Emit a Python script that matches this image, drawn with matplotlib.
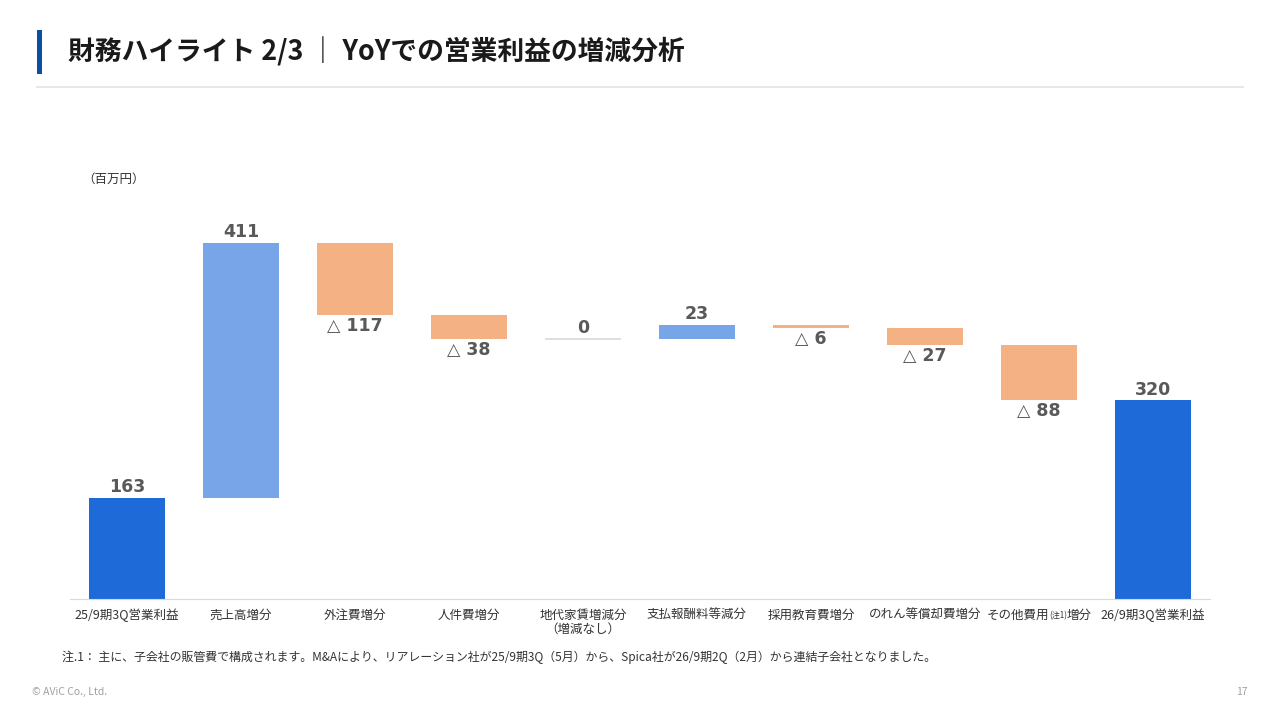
import matplotlib
matplotlib.use("Agg")
import matplotlib.pyplot as plt
from matplotlib.offsetbox import TextArea, HPacker, AnnotationBbox
import numpy as np

plt.rcParams['font.family'] = ['Noto Sans CJK JP', 'DejaVu Sans']

# ---- data ----
categories = ["25/9期3Q営業利益", "売上高増分", "外注費増分", "人件費増分",
              "地代家賃増減分\n（増減なし）", "支払報酬料等減分", "採用教育費増分",
              "のれん等償却費増分", "その他費用(注1)増分", "26/9期3Q営業利益"]
values = [163, 411, -117, -38, 0, 23, -6, -27, -88, 320]
kinds = ["total", "delta", "delta", "delta", "delta", "delta", "delta", "delta", "delta", "total"]

C_TOTAL = "#1F6AD9"
C_UP = "#77A5E8"
C_DOWN = "#F4B183"
C_ZERO = "#D9D9D9"
C_LABEL = "#595959"

fig = plt.figure(figsize=(12.8, 7.2), dpi=100)
W, H = 1280, 720

# header
fig.add_artist(plt.Rectangle((37 / W, 1 - 74 / H), 5 / W, 44 / H, transform=fig.transFigure,
                             color="#0B4EA2", lw=0))
fig.text(68 / W, 1 - 52 / H, "財務ハイライト 2/3 ｜ YoYでの営業利益の増減分析", fontsize=19.3,
         fontweight="bold", color="#1a1a1a", va="center", ha="left")
fig.add_artist(plt.Line2D([37 / W, 1243 / W], [1 - 87 / H, 1 - 87 / H], transform=fig.transFigure,
                          color="#E3E3E3", lw=1.2))

ax = fig.add_axes([70 / W, 1 - 599 / H, 1140 / W, 399 / H])
x = np.arange(len(categories))
ax.set_xlim(-0.5, len(categories) - 0.5)
ax.set_ylim(0, 643)

running = 0
bw = 0.66
for i, (v, k) in enumerate(zip(values, kinds)):
    if k == "total":
        bottom, height, col = 0, v, C_TOTAL
        running = v
    else:
        if v >= 0:
            bottom, height = running, v
            col = C_UP if v > 0 else C_ZERO
        else:
            bottom, height = running + v, -v
            col = C_DOWN
        running += v
    if v == 0:
        ax.hlines(bottom, i - bw / 2, i + bw / 2, color=C_ZERO, lw=1.2)
    else:
        ax.bar(i, height, bottom=bottom, width=bw, color=col, lw=0)
    if v >= 0:
        ax.text(i, bottom + height + 3, f"{v}", ha="center", va="bottom", fontsize=12.5,
                fontweight="bold", color=C_LABEL, family=["DejaVu Sans"])
    else:
        ax.text(i, bottom - 3, f"△ {-v}", ha="center", va="top", fontsize=12.5,
                fontweight="bold", color=C_LABEL, family=["DejaVu Sans"])

for s in ["top", "right", "left"]:
    ax.spines[s].set_visible(False)
ax.spines["bottom"].set_color("#D9D9D9")
ax.set_yticks([])
ax.set_xticks(x)
ticklabels = [("" if "(注1)" in c else c) for c in categories]
ax.set_xticklabels(ticklabels, fontsize=9, color="#333333", linespacing=1.15)
ax.tick_params(axis="x", length=0, pad=7)

# label with small note marker
for i, c in enumerate(categories):
    if "(注1)" in c:
        a, b = c.split("(注1)")
        pk = HPacker(children=[TextArea(a, textprops=dict(fontsize=9, color="#333333")),
                               TextArea("(注1)", textprops=dict(fontsize=5.8, color="#333333")),
                               TextArea(b, textprops=dict(fontsize=9, color="#333333"))],
                     align="baseline", pad=0, sep=0)
        ab = AnnotationBbox(pk, (i, 0), xycoords=("data", "axes fraction"),
                            xybox=(0, -7), boxcoords="offset points",
                            box_alignment=(0.5, 1.0), frameon=False)
        ax.add_artist(ab)

fig.text(82 / W, 1 - 179 / H, "（百万円）", fontsize=9, color="#333333", ha="left", va="center")
fig.text(62 / W, 1 - 657 / H,
         "注.1： 主に、子会社の販管費で構成されます。M&Aにより、リアレーション社が25/9期3Q（5月）から、Spica社が26/9期2Q（2月）から連結子会社となりました。",
         fontsize=8.6, color="#333333", ha="left", va="center")
fig.text(32 / W, 1 - 692 / H, "© AViC Co., Ltd.", fontsize=7.5, color="#A0A0A0", ha="left", va="center")
fig.text(1248 / W, 1 - 692 / H, "17", fontsize=7.5, color="#A0A0A0", ha="right", va="center")

fig.savefig("out.png", dpi=100, facecolor="white")
